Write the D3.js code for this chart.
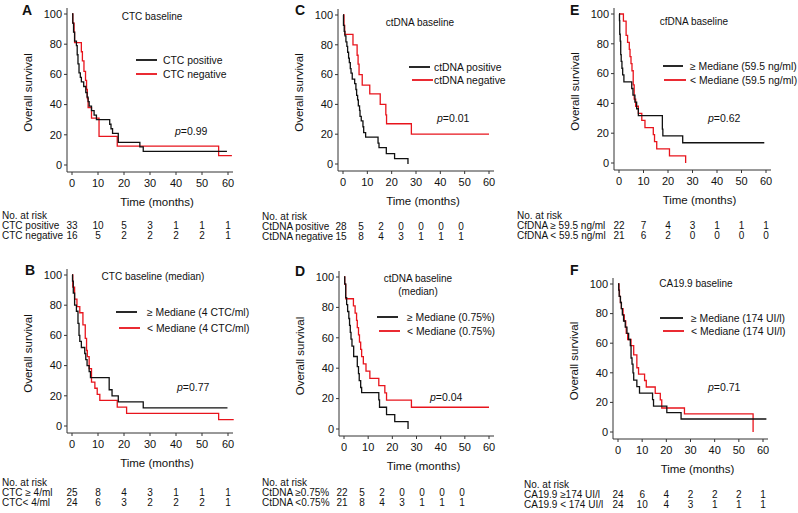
<!DOCTYPE html>
<html><head><meta charset="utf-8">
<script src="https://cdn.jsdelivr.net/npm/d3@7"></script>
<style>
html,body{margin:0;padding:0;background:#fff;}
svg text{font-family:"Liberation Sans",Arial,Helvetica,sans-serif;fill:#111;}
</style></head><body>
<svg id="c" width="798" height="513"></svg>
<script>
// ---------- DATA ----------
const xTicks = [0,10,20,30,40,50,60];
const yTicks = [0,20,40,60,80,100];
const riskTimes = [0,10,20,30,40,50,60];

// Panel A: CTC baseline
const aPos = [[0,100],[0.3,94],[0.6,88],[1.0,82],[1.7,79],[2.0,73],[2.3,67],[2.7,61],[3.2,58],[3.6,55],[4.5,52],[5.3,48],[5.8,45],[6.2,42],[6.6,39],[7.5,36],[8.5,33],[9.4,30],[14.5,27],[15.0,24],[15.6,21],[17.8,15],[26.1,12],[27.4,9],[59.6,9]];
const aNeg = [[0,100],[0.3,94],[0.8,88],[1.0,81],[3.6,75],[4.0,69],[4.6,62],[5.2,56],[5.6,50],[5.9,44],[6.2,38],[7.5,31],[10.4,19],[17.4,12.5],[56.4,6.25],[61.5,6.25]];
const aRisk = [[33,10,5,3,1,1,1],[16,5,2,2,2,2,1]];

// Panel B: CTC baseline (median)
const bHigh = [[0,100],[0.2,96],[0.5,88],[1.0,80],[1.7,76],[2.3,68],[2.7,60],[3.0,56],[3.6,52],[4.9,48],[5.3,44],[5.8,40],[6.6,36],[7.1,32],[14.3,24],[15.4,20],[17.8,16],[27.4,12],[59.8,12]];
const bLow = [[0,100],[0.3,92],[1.0,84],[1.9,79],[3.0,75],[4.2,67],[5.1,58],[5.6,50],[5.9,46],[6.6,38],[7.5,29],[8.8,25],[9.7,21],[10.7,17],[17.4,12.5],[21.0,8.3],[56.4,4.2],[62.2,4.2]];
const bRisk = [[25,8,4,3,1,1,1],[24,6,3,2,2,2,1]];

// Panel C: ctDNA baseline
const cPos = [[0,100],[0.2,93],[0.5,89],[0.8,86],[1.2,82],[1.6,79],[1.9,75],[2.3,71],[2.6,68],[3.0,64],[3.3,61],[3.8,57],[4.8,54],[5.3,50],[5.6,46],[6.0,43],[6.3,39],[6.8,36],[7.0,32],[7.5,29],[8.2,25],[8.5,21],[9.3,18],[14.4,14],[14.8,11],[17.8,7],[21.2,3.6],[26.7,0]];
const cNeg = [[0,100],[0.4,93],[0.7,87],[4.1,80],[5.8,73],[6.2,67],[6.6,60],[7.9,53],[11.0,47],[15.3,40],[17.6,33],[17.9,27],[28.1,20],[60,20]];
const cRisk = [[28,5,2,0,0,0,0],[15,8,4,3,1,1,1]];

// Panel D: ctDNA baseline (median)
const dHigh = [[0,100],[0.3,95.5],[0.7,86.4],[1.1,81.8],[1.5,77.3],[2.0,72.7],[2.3,68.2],[2.6,63.6],[2.9,59.1],[3.3,54.5],[4.0,47.7],[5.5,41],[6.0,36.4],[6.3,31.8],[6.9,27.3],[7.3,23.9],[14.4,19.1],[14.7,14.3],[17.6,9.5],[21.0,4.8],[26.5,0]];
const dLow = [[0,100],[0.3,95.2],[0.7,85.7],[3.9,81],[4.6,76.2],[5.2,71.4],[5.5,66.7],[6.0,61.9],[6.4,57.1],[6.9,52.4],[7.3,47.6],[8.0,42.9],[9.1,38.1],[10.7,33.3],[14.4,28.6],[16.9,23.8],[17.6,19],[27.9,14.3],[60,14.3]];
const dRisk = [[22,5,2,0,0,0,0],[21,8,4,3,1,1,1]];

// Panel E: cfDNA baseline
const eHigh = [[0,100],[0.2,95.5],[0.3,86.4],[0.5,81.8],[0.7,72.7],[0.9,68.2],[1.2,63.6],[1.5,59.1],[2.0,54.5],[5.2,50],[5.7,45.5],[6.5,40.9],[7.2,36.4],[7.9,31.8],[17.7,22.7],[17.9,18.2],[26.0,13.6],[59.3,13.6]];
const eLow = [[0,100],[1.8,95.2],[2.9,85.7],[3.5,81],[4.2,76.2],[4.5,71.4],[4.9,66.7],[5.3,61.9],[5.8,52.4],[6.2,42.9],[6.8,38.1],[7.9,33.3],[9.3,28.6],[10.6,23.8],[14.0,19],[14.5,14.3],[15.4,9.5],[20.6,4.8],[27.2,0]];
const eRisk = [[22,7,4,3,1,1,1],[21,6,2,0,0,0,0]];

// Panel F: CA19.9 baseline
const fHigh = [[0,100],[0.3,95.8],[0.5,91.7],[1.0,87.5],[1.4,83.3],[1.8,79.2],[2.3,75],[3.0,70.8],[3.7,66.7],[4.4,62.5],[5.1,58.3],[5.4,50],[5.8,45.8],[6.2,40],[6.5,35],[7.8,30.6],[8.9,26.3],[14.3,21.9],[14.7,17.5],[20.2,13.1],[26.1,8.8],[61.4,8.8]];
const fLow = [[0,100],[0.4,95.8],[0.6,91.7],[1.0,87.5],[1.4,83.3],[2.1,79.2],[2.6,75],[3.2,70.8],[3.4,66.7],[4.0,62.5],[5.4,58.3],[6.5,52.1],[7.8,43.4],[8.5,39.1],[11.0,34.8],[11.7,30.4],[15.4,26.1],[17.5,21.7],[18.1,16.2],[27.5,12.2],[55.9,12.2],[55.9,0]];
const fRisk = [[24,6,4,2,2,2,1],[24,10,4,3,1,1,1]];

// ---------- LAYOUT ----------
const panels = [
 {letter:"A", lx:22, ly:15, L:72, R:228, T:14, B:165,
  title:["CTC baseline"], tx:152, ty:[16],
  black:aPos, red:aNeg, leg:["CTC positive","CTC negative"],
  legB:[136,157,60], legR:[136,157,74], legTx:163,
  p:"0.99", px:175, py:131,
  risk:aRisk, riskLab:["CTC positive","CTC negative"], rlx:2, ry:[215,225,235], riskX:null},
 {letter:"B", lx:25, ly:275, L:72, R:228, T:275, B:426,
  title:["CTC baseline (median)"], tx:153, ty:[276],
  black:bHigh, red:bLow, leg:["\u2265 Mediane (4 CTC/ml)","< Mediane (4 CTC/ml)"],
  legB:[116,137,312], legR:[119,140,328], legTx:147,
  p:"0.77", px:177, py:387,
  risk:bRisk, riskLab:["CTC \u2265 4/ml","CTC< 4/ml"], rlx:2, ry:[482,492,502], riskX:null},
 {letter:"C", lx:295, ly:15, L:343, R:489, T:15, B:164,
  title:["ctDNA baseline"], tx:420, ty:[22],
  black:cPos, red:cNeg, leg:["ctDNA positive","ctDNA negative"],
  legB:[409,430,67], legR:[412,433,80], legTx:434,
  p:"0.01", px:437, py:118,
  risk:cRisk, riskLab:["CtDNA positive","CtDNA negative"], rlx:262, ry:[216,226,236], riskX:[341,20]},
 {letter:"D", lx:295, ly:276, L:344, R:489, T:277, B:429,
  title:["ctDNA baseline","(median)"], tx:418, ty:[278,291],
  black:dHigh, red:dLow, leg:["\u2265 Mediane (0.75%)","< Mediane (0.75%)"],
  legB:[377,398,317], legR:[379,400,331], legTx:407,
  p:"0.04", px:430, py:397,
  risk:dRisk, riskLab:["CtDNA \u22650.75%","CtDNA <0.75%"], rlx:262, ry:[482,492,502], riskX:[342,20]},
 {letter:"E", lx:570, ly:15, L:619, R:766, T:14, B:163,
  title:["cfDNA baseline"], tx:694, ty:[21],
  black:eHigh, red:eLow, leg:["\u2265 Mediane (59.5 ng/ml)","< Mediane (59.5 ng/ml)"],
  legB:[663,683,66], legR:[664,686,80], legTx:690,
  p:"0.62", px:708, py:118,
  risk:eRisk, riskLab:["CfDNA \u2265 59.5 ng/ml","CfDNA < 59.5 ng/ml"], rlx:517, ry:[215,225,235], riskX:null},
 {letter:"F", lx:570, ly:275, L:618, R:763, T:284, B:432,
  title:["CA19.9 baseline"], tx:696, ty:[283],
  black:fHigh, red:fLow, leg:["\u2265 Mediane (174 UI/l)","< Mediane (174 UI/l)"],
  legB:[660,683,318], legR:[663,684,331], legTx:691,
  p:"0.71", px:708, py:387,
  risk:fRisk, riskLab:["CA19.9 \u2265174 UI/l","CA19.9 < 174 UI/l"], rlx:524, ry:[484,494,504], riskX:null}
];

const RED = "#e8141c", BLACK = "#111";
const svg = d3.select("#c");

panels.forEach(pn => {
  const g = svg.append("g");
  const x = d3.scaleLinear().domain([0,60]).range([pn.L, pn.R]);
  const y = d3.scaleLinear().domain([0,100]).range([pn.B, pn.T]);
  const ax0 = pn.L - 5, ay0 = pn.B + 7;

  g.append("path").attr("d", `M${ax0},${pn.T-6}V${ay0}H${pn.R+5}`)
    .attr("fill","none").attr("stroke","#333").attr("stroke-width",1);
  yTicks.forEach(v => {
    g.append("line").attr("x1",ax0-3).attr("x2",ax0).attr("y1",y(v)).attr("y2",y(v)).attr("stroke","#333");
    g.append("text").attr("x",pn.L-10).attr("y",y(v)).attr("dy","0.35em")
      .attr("text-anchor","end").attr("font-size",11).text(v);
  });
  xTicks.forEach(v => {
    g.append("line").attr("x1",x(v)).attr("x2",x(v)).attr("y1",ay0).attr("y2",ay0+3).attr("stroke","#333");
    g.append("text").attr("x",x(v)).attr("y",pn.B+18).attr("dy","0.35em")
      .attr("text-anchor","middle").attr("font-size",11).text(v);
  });
  g.append("text").attr("transform",`translate(${pn.L-44},${(pn.T+pn.B)/2+3}) rotate(-90)`)
    .attr("text-anchor","middle").attr("dy","0.35em").attr("font-size",11.5).text("Overall survival");
  g.append("text").attr("x",(pn.L+pn.R)/2+7).attr("y",pn.B+37).attr("dy","0.35em")
    .attr("text-anchor","middle").attr("font-size",11.5).text("Time (months)");

  const line = d3.line().x(d=>x(d[0])).y(d=>y(d[1])).curve(d3.curveStepAfter);
  g.append("path").datum(pn.red).attr("d",line).attr("fill","none").attr("stroke",RED).attr("stroke-width",1.3);
  g.append("path").datum(pn.black).attr("d",line).attr("fill","none").attr("stroke",BLACK).attr("stroke-width",1.3);

  g.append("text").attr("x",pn.lx).attr("y",pn.ly).attr("font-size",14).attr("font-weight","bold").text(pn.letter);
  pn.title.forEach((t,i) => g.append("text").attr("x",pn.tx).attr("y",pn.ty[i]).attr("dy","0.35em")
    .attr("text-anchor","middle").attr("font-size",10).text(t));
  [[pn.legB,BLACK,pn.leg[0]],[pn.legR,RED,pn.leg[1]]].forEach(([l,c,t]) => {
    g.append("line").attr("x1",l[0]).attr("x2",l[1]).attr("y1",l[2]).attr("y2",l[2]).attr("stroke",c).attr("stroke-width",1.8);
    g.append("text").attr("x",pn.legTx).attr("y",l[2]).attr("dy","0.35em").attr("font-size",10.4).text(t);
  });
  const pt = g.append("text").attr("x",pn.px).attr("y",pn.py).attr("dy","0.35em").attr("font-size",10.5);
  pt.append("tspan").attr("font-style","italic").text("p");
  pt.append("tspan").text("=" + pn.p);

  g.append("text").attr("x",pn.rlx).attr("y",pn.ry[0]).attr("dy","0.35em").attr("font-size",10).text("No. at risk");
  pn.risk.forEach((row,ri) => {
    g.append("text").attr("x",pn.rlx).attr("y",pn.ry[ri+1]).attr("dy","0.35em").attr("font-size",10).text(pn.riskLab[ri]);
    row.forEach((v,i) => {
      const cx = pn.riskX ? pn.riskX[0] + pn.riskX[1]*i : x(riskTimes[i]);
      g.append("text").attr("x",cx).attr("y",pn.ry[ri+1]).attr("dy","0.35em")
        .attr("text-anchor","middle").attr("font-size",10).text(v);
    });
  });
});
</script>
</body></html>
